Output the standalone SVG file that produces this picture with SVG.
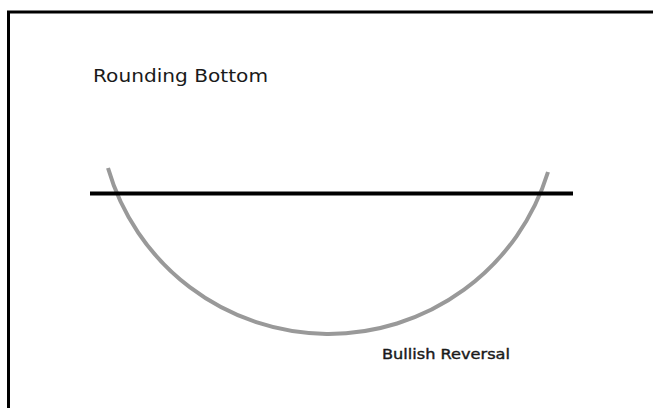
<svg xmlns="http://www.w3.org/2000/svg" width="653" height="408" viewBox="0 0 653 408">
<style>
.lbl{font-family:"DejaVu Sans","Liberation Sans",sans-serif;fill:#1a1a1a}
</style>
<rect width="653" height="408" fill="#fff"/>
<g id="frame">
<path d="M8.5,420 V12 H660" fill="none" stroke="#000" stroke-width="3"/>
</g>
<g id="title"><text class="lbl" x="93" y="82" font-size="17" textLength="175" lengthAdjust="spacingAndGlyphs">Rounding Bottom</text></g>
<g id="connectors">
<path id="arc" d="M108,168 A229.6,229.6 0 0 0 548,172" fill="none" stroke="#999" stroke-width="4"/>
<line id="resistance" x1="90" y1="193.5" x2="573" y2="193.5" stroke="#000" stroke-width="4"/>
</g>
<g id="label"><text class="lbl" x="382" y="359" font-size="14" stroke="#1a1a1a" stroke-width="0.4" textLength="128" lengthAdjust="spacingAndGlyphs">Bullish Reversal</text></g>
</svg>
